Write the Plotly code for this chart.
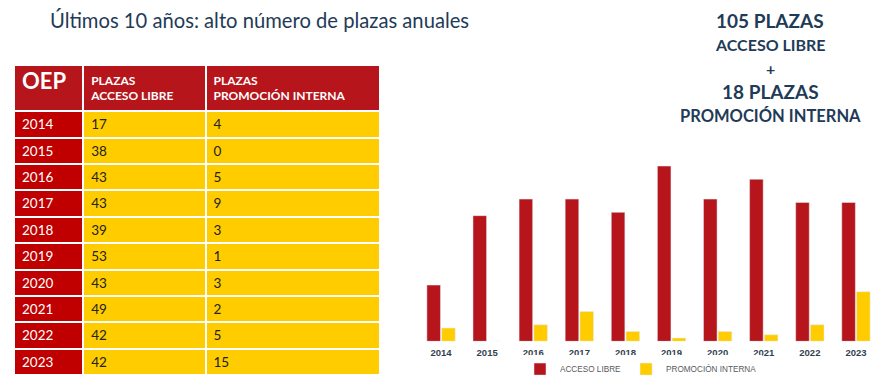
import plotly.graph_objects as go

years = ["2014", "2015", "2016", "2017", "2018", "2019", "2020", "2021", "2022", "2023"]
acceso_libre = [17, 38, 43, 43, 39, 53, 43, 49, 42, 42]
promocion_interna = [4, 0, 5, 9, 3, 1, 3, 2, 5, 15]
header_labels = ["OEP", "PLAZAS<br>ACCESO LIBRE", "PLAZAS<br>PROMOCIÓN INTERNA"]
series_names = ["ACCESO LIBRE", "PROMOCIÓN INTERNA"]
title_text = "Últimos 10 años: alto número de plazas anuales"
summary_lines = ["105 PLAZAS", "ACCESO LIBRE", "+", "18 PLAZAS", "PROMOCIÓN INTERNA"]

# page body has an 8px margin: figure drawn 8px right/down of the window origin
OFF = 8
W, H = 886 - OFF, 384 - OFF


def px(x):
    return (x - OFF) / W


def py(y):
    return 1 - (y - OFF) / H


RED = "#B5151B"
RED_COL = "#C00000"
YELLOW = "#FFCC00"
NAVY = "#1F3B57"
FONT = "Lato, Open Sans, sans-serif"
ARIAL = "Liberation Sans, Arial, sans-serif"

fig = go.Figure()

fig.add_trace(go.Table(
    domain=dict(x=[px(14), px(380)], y=[0.0, py(65)]),
    columnwidth=[69, 122, 174],
    header=dict(
        values=header_labels,
        fill_color=RED,
        line=dict(color="white", width=2),
        align="left",
        height=42,
        font=dict(family=FONT, color="white", size=[22, 12, 12], weight="bold"),
    ),
    cells=dict(
        values=[years, acceso_libre, promocion_interna],
        fill_color=[[RED_COL] * len(years), [YELLOW] * len(years), [YELLOW] * len(years)],
        line=dict(color="white", width=2),
        align="left",
        height=26.4,
        font=dict(family=FONT, color=["white", "#222222", "#222222"], size=13.5),
    ),
))

fig.add_trace(go.Bar(x=years, y=acceso_libre, name=series_names[0], marker_color=RED,
                     xaxis="x", yaxis="y"))
fig.add_trace(go.Bar(x=years, y=promocion_interna, name=series_names[1], marker_color=YELLOW,
                     xaxis="x", yaxis="y"))

# title
fig.add_annotation(text=title_text, x=px(48), y=py(20), xref="paper", yref="paper",
                   xanchor="left", yanchor="middle", showarrow=False,
                   font=dict(family=FONT, size=20.2, color=NAVY))

# summary text on the right
sum_y = [21, 45, 69, 92, 117]
sum_size = [19, 16, 16, 19, 16.5]
for line, yy, sz in zip(summary_lines, sum_y, sum_size):
    fig.add_annotation(text=line, x=px(770), y=py(yy), xref="paper", yref="paper",
                       xanchor="center", yanchor="middle", showarrow=False,
                       font=dict(family=FONT, size=sz, color=NAVY, weight="bold"))

base_y = 344          # screen y of the bar baseline
plot_h = 200          # px height of the y range below
fig.update_layout(
    width=W, height=H,
    margin=dict(l=0, r=0, t=0, b=0),
    paper_bgcolor="white", plot_bgcolor="white",
    barmode="group", bargap=0.36, bargroupgap=0.08,
    xaxis=dict(domain=[px(418), px(879)], type="category", showgrid=False, zeroline=False,
               showline=False, ticks="", ticklabelstandoff=4,
               tickfont=dict(family=ARIAL, size=9.5, color="#333F4F", weight="bold")),
    yaxis=dict(domain=[py(base_y), py(base_y - plot_h)], range=[0, 60], visible=False),
    legend=dict(orientation="h", x=px(641), y=py(372), xanchor="center", yanchor="middle",
                font=dict(family=ARIAL, size=8.2, color="#595959"),
                itemwidth=30, tracegroupgap=0),
    showlegend=True,
)

fig.write_html("out.html")
